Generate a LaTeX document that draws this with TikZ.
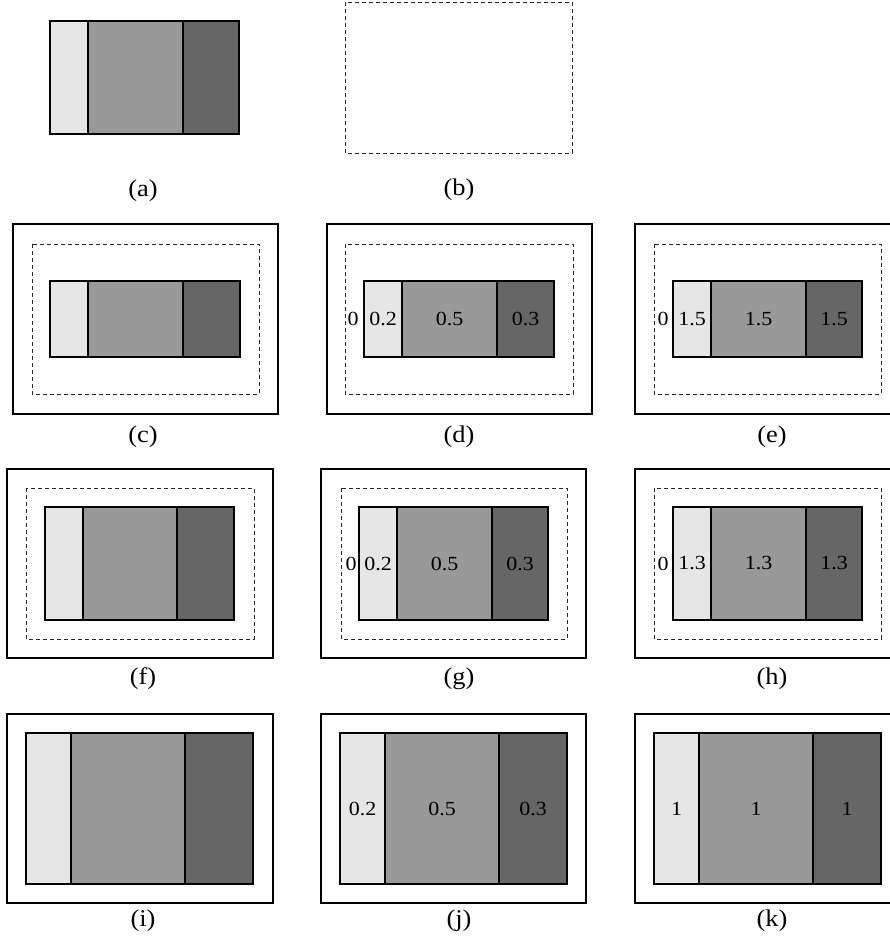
\documentclass[tikz,border=0pt]{standalone}
\usepackage{graphicx}
\usepackage{fontspec}
\setmainfont{Liberation Serif}
\definecolor{cL}{HTML}{E6E6E6}
\definecolor{cM}{HTML}{999999}
\definecolor{cD}{HTML}{666666}
\newcommand{\ctx}[1]{\scalebox{1.1}[1]{#1}}
\tikzset{
  outerbox/.style={draw=black, line width=1.6pt},
  dashbox/.style={draw=black!85, line width=0.9pt, dash pattern=on 4pt off 3pt},
  cellline/.style={draw=black, line width=1.5pt},
  celltext/.style={inner sep=0pt, font=\fontsize{20}{24}\selectfont},
  lbl/.style={inner sep=0pt, font=\fontsize{24}{28}\selectfont}
}
\newcommand{\tricell}[7]{%
  \fill[cL] (#2,#6) rectangle (#3,#7);
  \fill[cM] (#3,#6) rectangle (#4,#7);
  \fill[cD] (#4,#6) rectangle (#5,#7);
  \draw[cellline] (#2,#6) rectangle (#5,#7);
  \draw[cellline] (#3,#6) -- (#3,#7);
  \draw[cellline] (#4,#6) -- (#4,#7);
  \coordinate (#1-1) at ({(#2+#3)/2},{(#6+#7)/2});
  \coordinate (#1-2) at ({(#3+#4)/2},{(#6+#7)/2});
  \coordinate (#1-3) at ({(#4+#5)/2},{(#6+#7)/2});
}
\begin{document}
\begin{tikzpicture}[x=1pt,y=-1pt]
\useasboundingbox (0,0) rectangle (890,947);
\clip (0,0) rectangle (890,947);
% (a)
\tricell{a}{50}{88}{183}{239}{21}{134}
\node[lbl] (la) at (143,191) {\ctx{(a)}};
% (b)
\draw[dashbox] (345,2) rectangle (572,153);
\node[lbl] (lb) at (459,190) {\ctx{(b)}};
% (c)
\draw[outerbox] (13,224) rectangle (278,414);
\draw[dashbox] (32,244) rectangle (259,394);
\tricell{c}{50}{88}{183}{240}{281}{357}
\node[lbl] (lc) at (143,437) {\ctx{(c)}};
% (d)
\draw[outerbox] (327,224) rectangle (592,414);
\draw[dashbox] (345,244) rectangle (573,394);
\tricell{d}{364}{402}{497}{554}{281}{357}
\node[celltext] (d0) at (353,319) {\ctx{0}};
\node[celltext] (dt1) at (d-1) {\ctx{0.2}};
\node[celltext] (dt2) at (d-2) {\ctx{0.5}};
\node[celltext] (dt3) at (d-3) {\ctx{0.3}};
\node[lbl] (ld) at (459,437) {\ctx{(d)}};
% (e)
\draw[outerbox] (635,224) rectangle (900,414);
\draw[dashbox] (654,244) rectangle (881,394);
\tricell{e}{673}{711}{806}{862}{281}{357}
\node[celltext] (e0) at (663,319) {\ctx{0}};
\node[celltext] (et1) at (e-1) {\ctx{1.5}};
\node[celltext] (et2) at (e-2) {\ctx{1.5}};
\node[celltext] (et3) at (e-3) {\ctx{1.5}};
\node[lbl] (le) at (772,437) {\ctx{(e)}};
% (f)
\draw[outerbox] (7,469) rectangle (273,658);
\draw[dashbox] (26,488) rectangle (254,639);
\tricell{f}{45}{83}{177}{234}{507}{620}
\node[lbl] (lf) at (143,679) {\ctx{(f)}};
% (g)
\draw[outerbox] (321,469) rectangle (586,658);
\draw[dashbox] (341,488) rectangle (567,639);
\tricell{g}{359}{397}{492}{548}{507}{620}
\node[celltext] (g0) at (351,564) {\ctx{0}};
\node[celltext] (gt1) at (g-1) {\ctx{0.2}};
\node[celltext] (gt2) at (g-2) {\ctx{0.5}};
\node[celltext] (gt3) at (g-3) {\ctx{0.3}};
\node[lbl] (lg) at (459,679) {\ctx{(g)}};
% (h)
\draw[outerbox] (635,469) rectangle (900,658);
\draw[dashbox] (654,488) rectangle (881,639);
\tricell{h}{673}{711}{806}{862}{507}{620}
\node[celltext] (h0) at (663,564) {\ctx{0}};
\node[celltext] (ht1) at (h-1) {\ctx{1.3}};
\node[celltext] (ht2) at (h-2) {\ctx{1.3}};
\node[celltext] (ht3) at (h-3) {\ctx{1.3}};
\node[lbl] (lh) at (772,679) {\ctx{(h)}};
% (i)
\draw[outerbox] (7,714) rectangle (273,903);
\tricell{i}{26}{71}{185}{253}{733}{884}
\node[lbl] (li) at (143,921) {\ctx{(i)}};
% (j)
\draw[outerbox] (321,714) rectangle (586,903);
\tricell{j}{340}{385}{499}{567}{733}{884}
\node[celltext] (jt1) at (j-1) {\ctx{0.2}};
\node[celltext] (jt2) at (j-2) {\ctx{0.5}};
\node[celltext] (jt3) at (j-3) {\ctx{0.3}};
\node[lbl] (lj) at (459,921) {\ctx{(j)}};
% (k)
\draw[outerbox] (635,714) rectangle (900,903);
\tricell{k}{654}{699}{813}{881}{733}{884}
\node[celltext] (kt1) at (k-1) {\ctx{1}};
\node[celltext] (kt2) at (k-2) {\ctx{1}};
\node[celltext] (kt3) at (k-3) {\ctx{1}};
\node[lbl] (lk) at (772,921) {\ctx{(k)}};
\end{tikzpicture}
\end{document}
